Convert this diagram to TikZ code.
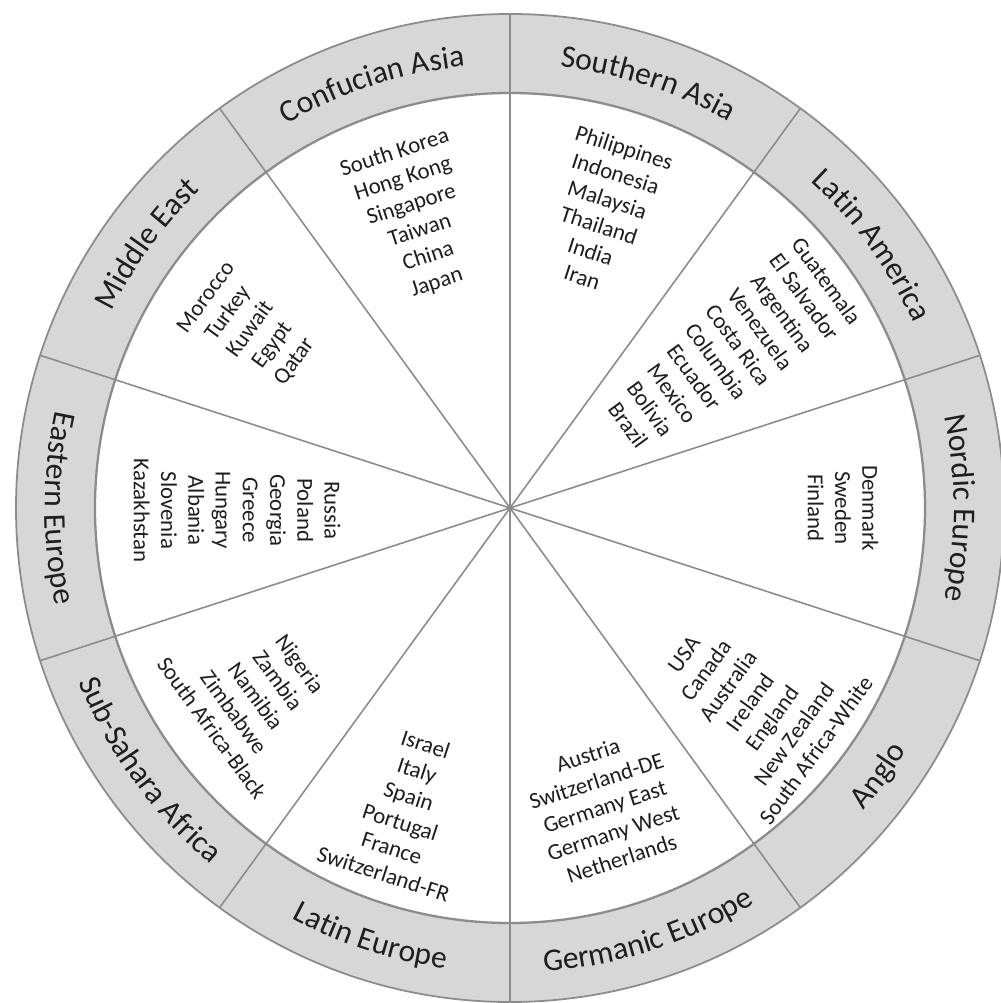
\documentclass[tikz,border=0pt]{standalone}
\usepackage{fontspec}
\setmainfont{Carlito}
\usetikzlibrary{decorations.text}
\definecolor{ringfill}{HTML}{D7D7D7}
\definecolor{rule}{HTML}{8C8C8C}
\definecolor{ink}{HTML}{1E1E1E}
\tikzset{
  country/.style={align=center, font=\fontsize{13}{15.5}\selectfont, text=ink, inner sep=0pt},
  spoke/.style={draw=rule, line width=0.9pt},
}
% ring label on the upper half: read clockwise, letter tops outward
\newcommand\outerlabel[2]{%
  \path[decorate, decoration={text along path, text align=center,
      text={|\fontsize{18}{20}\selectfont\color{ink}|#2}}]
    (#1+30:8.88) arc[start angle=#1+30, end angle=#1-30, radius=8.88];
}
% ring label on the lower half: read counterclockwise, letter tops inward
\newcommand\innerlabel[2]{%
  \path[decorate, decoration={text along path, text align=center,
      text={|\fontsize{18}{20}\selectfont\color{ink}|#2}}]
    (#1-30:9.30) arc[start angle=#1-30, end angle=#1+30, radius=9.30];
}
\begin{document}
\begin{tikzpicture}
\useasboundingbox (-10.2,-9.9) rectangle (9.8,10.16);
\fill[white] (-10.2,-9.9) rectangle (9.8,10.16);

% grey outer ring
\fill[ringfill, even odd rule] (0,0) circle[radius=9.88] (0,0) circle[radius=8.3];
\draw[rule, line width=1pt] (0,0) circle[radius=9.88];
\draw[rule, line width=1.3pt] (0,0) circle[radius=8.3];

% ten sector boundaries
\foreach \a in {18,54,...,342} \draw[spoke] (0,0) -- (\a:9.88);

% region names in the ring
\outerlabel{108}{Confucian Asia}
\outerlabel{72}{Southern Asia}
\outerlabel{36}{Latin America}
\outerlabel{0}{Nordic Europe}
\outerlabel{144}{Middle East}
\innerlabel{-36}{Anglo}
\innerlabel{-72}{Germanic Europe}
\innerlabel{-108}{Latin Europe}
\innerlabel{-144}{Sub-Sahara Africa}
\innerlabel{-180}{Eastern Europe}

% country lists
\node[country, rotate=18] (confucian) at (108:6.10)
  {South Korea\\Hong Kong\\Singapore\\Taiwan\\China\\Japan};
\node[country, rotate=-18] (southasia) at (72.5:6.20)
  {Philippines\\Indonesia\\Malaysia\\Thailand\\India\\Iran};
\node[country, rotate=-54] (latinam) at (35.5:5.34)
  {Guatemala\\El Salvador\\Argentina\\Venezuela\\Costa Rica\\Columbia\\Ecuador\\Mexico\\Bolivia\\Brazil};
\node[country, rotate=-90] (nordic) at (0:6.66)
  {Denmark\\Sweden\\Finland};
\node[country, rotate=54] (anglo) at (-39:6.18)
  {USA\\Canada\\Australia\\Ireland\\England\\New Zealand\\South Africa-White};
\node[country, rotate=18] (germanic) at (-72.4:6.27)
  {Austria\\Switzerland-DE\\Germany East\\Germany West\\Netherlands};
\node[country, rotate=-18] (latineu) at (-109.3:6.38)
  {Israel\\Italy\\Spain\\Portugal\\France\\Switzerland-FR};
\node[country, rotate=-54] (subsahara) at (-143.5:6.32)
  {Nigeria\\Zambia\\Namibia\\Zimbabwe\\South Africa-Black};
\node[country, rotate=-90] (eastern) at (180.5:5.46)
  {Russia\\Poland\\Georgia\\Greece\\Hungary\\Albania\\Slovenia\\Kazakhstan};
\node[country, rotate=54] (mideast) at (145.5:6.30)
  {Morocco\\Turkey\\Kuwait\\Egypt\\Qatar};
\end{tikzpicture}
\end{document}
